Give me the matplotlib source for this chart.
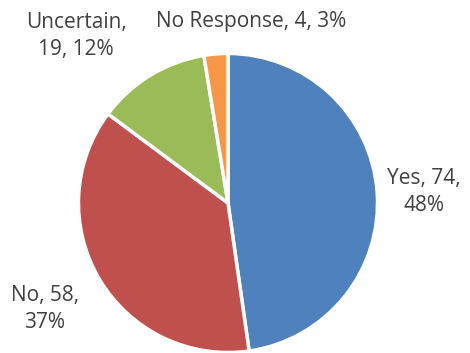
import matplotlib.pyplot as plt

# survey responses
categories = ['Yes', 'No', 'Uncertain', 'No Response']
counts = [74, 58, 19, 4]
percents = [48, 37, 12, 3]
colors = ['#4F81BD', '#C0504D', '#9BBB59', '#F79646']

plt.rcParams['font.family'] = ['Open Sans', 'DejaVu Sans']

fig = plt.figure(figsize=(4.7, 3.53), dpi=100)
ax = fig.add_axes([77 / 470, -1 / 353, 302 / 470, 302 / 353])

ax.pie(counts, colors=colors, startangle=90, counterclock=False,
       wedgeprops=dict(edgecolor='white', linewidth=2.5))
ax.set_xlim(-1.01, 1.01)
ax.set_ylim(-1.01, 1.01)
ax.set_aspect('equal')

# data labels, laid out like the spreadsheet chart
labels = {
    'Yes': (f'{categories[0]}, {counts[0]},\n{percents[0]}%', 424, 192),
    'No': (f'{categories[1]}, {counts[1]},\n{percents[1]}%', 45, 309),
    'Uncertain': (f'{categories[2]},\n{counts[2]}, {percents[2]}%', 76, 36),
    'No Response': (f'{categories[3]}, {counts[3]}, {percents[3]}%', 251, 22),
}
for text, x, y in labels.values():
    fig.text(x / 470, 1 - y / 353, text, ha='center', va='center',
             fontsize=15, color='#404040', linespacing=1.4)

plt.savefig('out.png', dpi=100)
